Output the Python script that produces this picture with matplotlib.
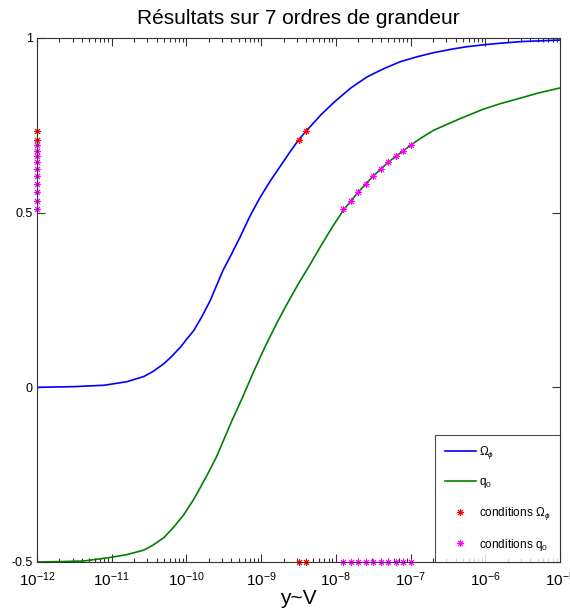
#!/usr/bin/env python3
"""
Omega_phi and q0 versus y~V on a log axis (7 decades).
"""

import matplotlib
matplotlib.use('Agg')
import matplotlib.pyplot as plt
import numpy as np

plt.rcParams['font.family'] = ['Liberation Sans', 'DejaVu Sans']
plt.rcParams['mathtext.fontset'] = 'custom'
plt.rcParams['mathtext.rm'] = 'Liberation Sans'
plt.rcParams['mathtext.it'] = 'Liberation Sans:italic'
plt.rcParams['mathtext.sf'] = 'Liberation Sans'

# Omega_phi curve (log10 of y~V, value)
omega_logx = [-12.0, -11.5, -11.1, -10.8, -10.57, -10.45, -10.30, -10.2, -10.08,
              -10.0, -9.90, -9.80, -9.68, -9.60, -9.51, -9.40, -9.28, -9.15,
              -9.01, -8.88, -8.75, -8.62, -8.50, -8.40, -8.20, -8.03, -7.80,
              -7.58, -7.35, -7.14, -6.90, -6.69, -6.45, -6.25, -6.0, -5.80,
              -5.5, -5.0]
omega_y = [0.0, 0.002, 0.006, 0.016, 0.031, 0.045, 0.068, 0.088, 0.115,
           0.137, 0.163, 0.200, 0.249, 0.290, 0.335, 0.380, 0.431, 0.490,
           0.545, 0.590, 0.631, 0.672, 0.708, 0.733, 0.780, 0.815, 0.857,
           0.889, 0.913, 0.932, 0.947, 0.958, 0.968, 0.975, 0.981, 0.985,
           0.990, 0.994]

# q0 curve
q0_logx = [-12.0, -11.7, -11.37, -11.02, -10.8, -10.57, -10.45, -10.30, -10.17,
           -10.04, -9.90, -9.72, -9.60, -9.50, -9.38, -9.26, -9.10, -8.95,
           -8.80, -8.65, -8.50, -8.35, -8.20, -8.05, -7.90, -7.70, -7.50,
           -7.30, -7.10, -7.0, -6.85, -6.69, -6.35, -6.03, -5.80, -5.58,
           -5.30, -5.0]
q0_y = [-0.5, -0.499, -0.497, -0.487, -0.479, -0.466, -0.452, -0.43, -0.40,
        -0.366, -0.32, -0.25, -0.20, -0.15, -0.09, -0.034, 0.045, 0.115,
        0.18, 0.24, 0.297, 0.35, 0.405, 0.458, 0.507, 0.559, 0.605,
        0.644, 0.677, 0.693, 0.715, 0.736, 0.768, 0.796, 0.812, 0.825,
        0.842, 0.857]

# conditions
cond_omega_logx = [-8.5, -8.4]
cond_omega_y = [0.708, 0.733]
cond_q0_logx = [-7.9, -7.8, -7.7, -7.6, -7.5, -7.4, -7.3, -7.2, -7.1, -7.0]
cond_q0_y = [0.510, 0.534, 0.559, 0.582, 0.605, 0.625, 0.644, 0.662, 0.677, 0.693]

xticks_log = [-12, -11, -10, -9, -8, -7, -6, -5]
yticks = [-0.5, 0, 0.5, 1]

fig = plt.figure(figsize=(5.7, 6.1), dpi=100)
ax = fig.add_axes([37 / 570, 48 / 610, 523 / 570, 524 / 610])

star = (8, 2, 0)
ax.plot(10.0 ** np.array(omega_logx), omega_y, color='#0000ff', lw=1.2,
        label=r'$\Omega_\phi$')
ax.plot(10.0 ** np.array(q0_logx), q0_y, color='#008000', lw=1.2,
        label=r'$\mathrm{q}_0$')

xo = 10.0 ** np.array(cond_omega_logx)
xq = 10.0 ** np.array(cond_q0_logx)
red_kw = dict(ls='none', marker=star, ms=5, mec='#ff0000', mew=0.7, clip_on=False)
mag_kw = dict(ls='none', marker=star, ms=5, mec='#ff00ff', mew=0.7, clip_on=False)

ax.plot(xo, cond_omega_y, label=r'conditions $\Omega_\phi$', **red_kw)
ax.plot(xq, cond_q0_y, label=r'conditions $\mathrm{q}_0$', **mag_kw)
# projections on the axes
ax.plot([1e-12] * len(cond_omega_y), cond_omega_y, **red_kw)
ax.plot([1e-12] * len(cond_q0_y), cond_q0_y, **mag_kw)
ax.plot(xo, [-0.5] * len(xo), **red_kw)
ax.plot(xq, [-0.5] * len(xq), **mag_kw)

ax.set_xscale('log')
ax.set_xlim(1e-12, 1e-5)
ax.set_ylim(-0.5, 1)
ax.set_xticks([10.0 ** k for k in xticks_log])
ax.set_yticks(yticks)
ax.set_yticklabels(['-0.5', '0', '0.5', '1'])

ax.tick_params(which='both', direction='in', top=True, right=True, color='#333333')
ax.tick_params(which='major', length=6, width=0.8)
ax.tick_params(which='minor', length=3, width=0.8)
ax.tick_params(axis='x', labelsize=11, pad=6)
ax.tick_params(axis='y', labelsize=9, pad=3)
for sp in ax.spines.values():
    sp.set_color('#333333')
    sp.set_linewidth(0.8)

ax.set_title('Résultats sur 7 ordres de grandeur', fontsize=15, pad=10)
ax.set_xlabel('y~V', fontsize=15, labelpad=0)

leg = ax.legend(loc='lower right', fontsize=8.5, frameon=True, fancybox=False,
                edgecolor='#222222', borderaxespad=0, labelspacing=1.25,
                handlelength=2.6, borderpad=0.8, handletextpad=0.3)
leg.get_frame().set_linewidth(0.8)

plt.savefig('out.png', dpi=100)
